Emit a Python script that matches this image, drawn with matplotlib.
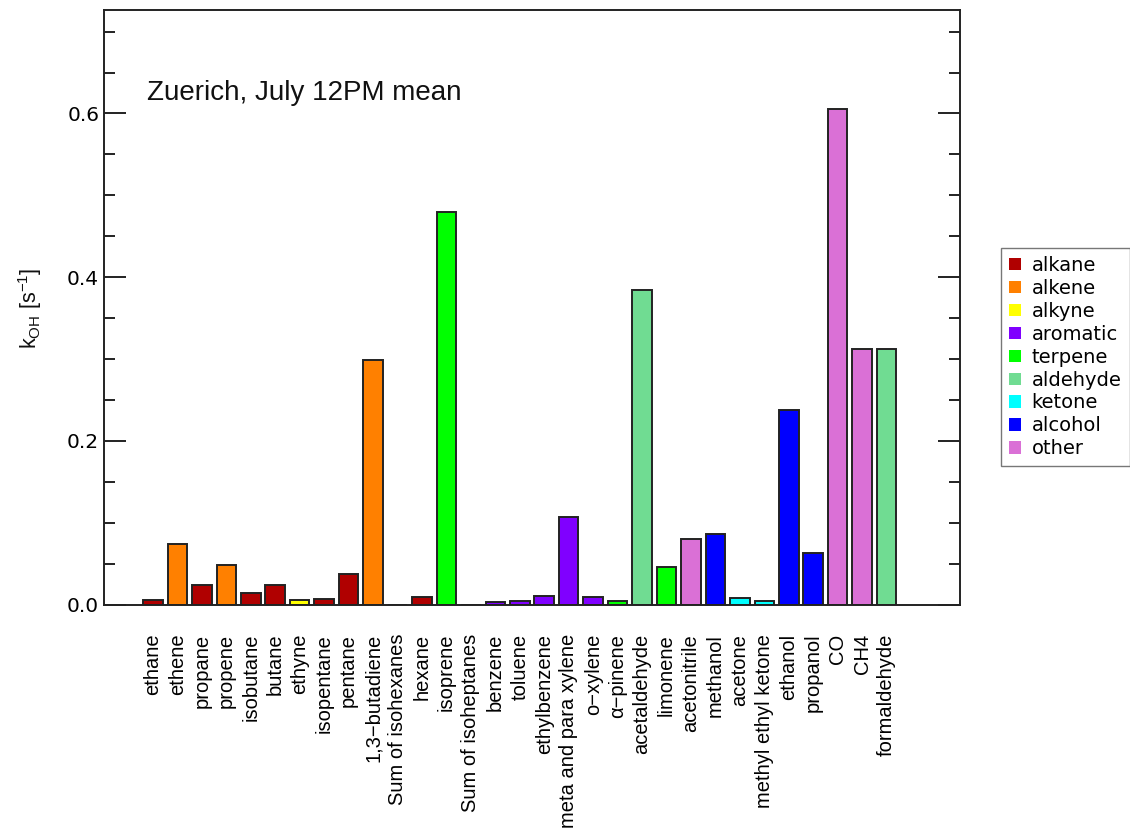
import matplotlib
matplotlib.use("Agg")
import matplotlib.pyplot as plt
from matplotlib.patches import Patch
from matplotlib.ticker import MultipleLocator, FormatStrFormatter

plt.rcParams['font.family'] = ['Liberation Sans', 'DejaVu Sans']
plt.rcParams['mathtext.fontset'] = 'custom'
plt.rcParams['mathtext.rm'] = 'Liberation Sans'
plt.rcParams['mathtext.it'] = 'Liberation Sans:italic'

# Species, their OH reactivity (s^-1) and chemical class
species = [
    "ethane", "ethene", "propane", "propene", "isobutane", "butane", "ethyne",
    "isopentane", "pentane", "1,3\u2212butadiene", "Sum of isohexanes", "hexane",
    "isoprene", "Sum of isoheptanes", "benzene", "toluene", "ethylbenzene",
    "meta and para xylene", "o\u2212xylene", "\u03b1\u2212pinene", "acetaldehyde",
    "limonene", "acetonitrile", "methanol", "acetone", "methyl ethyl ketone",
    "ethanol", "propanol", "CO", "CH4", "formaldehyde",
]
k_oh = [
    0.0057, 0.074, 0.0237, 0.049, 0.014, 0.0237, 0.0054,
    0.0066, 0.038, 0.2986, 0.0, 0.009,
    0.4798, 0.0, 0.0033, 0.0045, 0.011,
    0.1075, 0.009, 0.004, 0.3845,
    0.0464, 0.080, 0.086, 0.0078, 0.0045,
    0.238, 0.063, 0.6056, 0.3124, 0.3124,
]
classes = [
    "alkane", "alkene", "alkane", "alkene", "alkane", "alkane", "alkyne",
    "alkane", "alkane", "alkene", "alkane", "alkane",
    "terpene", "alkane", "aromatic", "aromatic", "aromatic",
    "aromatic", "aromatic", "terpene", "aldehyde",
    "terpene", "other", "alcohol", "ketone", "ketone",
    "alcohol", "alcohol", "other", "other", "aldehyde",
]

class_names = ["alkane", "alkene", "alkyne", "aromatic", "terpene",
               "aldehyde", "ketone", "alcohol", "other"]
class_colors = ["#B00000", "#FF8000", "#FFFF00", "#8000FF", "#00FF00",
                "#70DC92", "#00FFFF", "#0000FF", "#DA70D6"]
color_of = dict(zip(class_names, class_colors))

W, H = 1130, 830
fig = plt.figure(figsize=(W / 100, H / 100), dpi=100)
ax = fig.add_axes([104 / W, 1 - 604.7 / H, (960 - 104) / W, (604.7 - 10.3) / H])

xpos = list(range(len(species)))
ax.bar(xpos, k_oh, width=0.8, color=[color_of[c] for c in classes],
       edgecolor="#222222", linewidth=1.4, zorder=2)

ax.set_xlim(-2, 33)
ax.set_ylim(0, 0.726)

ax.set_xticks(xpos)
ax.set_xticklabels(species, rotation=90, ha="center", va="top", fontsize=14.5)
ax.tick_params(axis="x", length=0, pad=21)

ax.yaxis.set_major_locator(MultipleLocator(0.2))
ax.yaxis.set_minor_locator(MultipleLocator(0.05))
ax.yaxis.set_major_formatter(FormatStrFormatter("%.1f"))
ax.tick_params(axis="y", which="both", direction="in", right=True,
               width=1.4, color="#222222", labelsize=14.5, pad=3.5)
ax.tick_params(axis="y", which="major", length=16)
ax.tick_params(axis="y", which="minor", length=8)
for lab in ax.get_yticklabels():
    lab.set_fontfamily("DejaVu Sans")

for sp in ax.spines.values():
    sp.set_linewidth(1.4)
    sp.set_color("#222222")

fig.text(30 / W, 1 - 308 / H, r"k$_{\mathrm{OH}}$ [s$^{-1}$]", fontsize=15.5,
         rotation=90, ha="center", va="center", color="#111111")

fig.text(147 / W, 1 - 100 / H, "Zuerich, July 12PM mean",
         fontsize=20, ha="left", va="baseline", color="#111111")

handles = [Patch(facecolor=c, edgecolor="none", label=n)
           for n, c in zip(class_names, class_colors)]
leg = fig.legend(handles=handles, loc="upper left",
                 bbox_to_anchor=(1001 / W, 1 - 248 / H),
                 prop={"family": "DejaVu Sans", "size": 14},
                 frameon=True, fancybox=False,
                 handlelength=0.6, handleheight=0.6, handletextpad=0.55,
                 labelspacing=0.2, borderpad=0.42, borderaxespad=0.0)
leg.get_frame().set_edgecolor("#555555")
leg.get_frame().set_linewidth(1.0)

fig.savefig("out.png", dpi=100, facecolor="white")
